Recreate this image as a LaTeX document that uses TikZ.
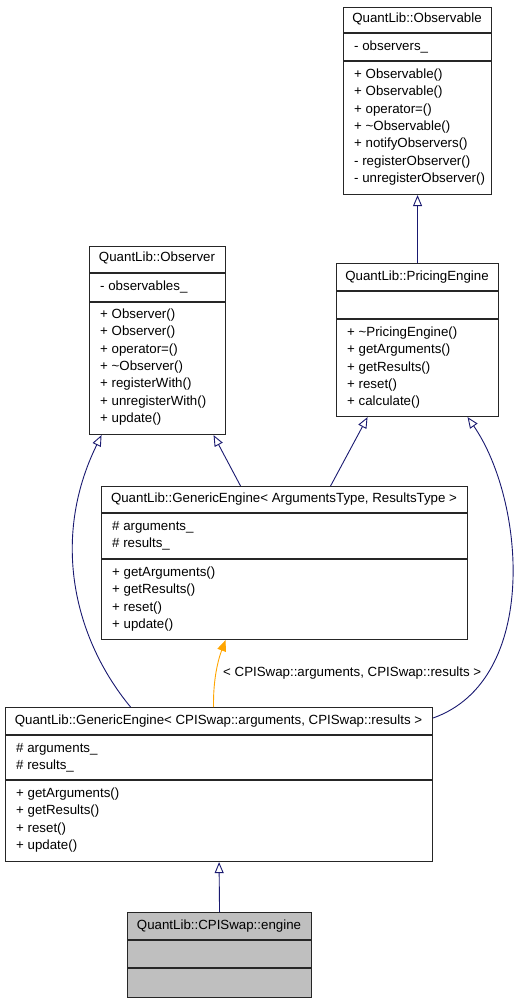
\documentclass[tikz,border=0pt]{standalone}
\usepackage{fontspec}
\setmainfont{Liberation Sans}
\usetikzlibrary{arrows.meta}
\definecolor{edgeblue}{HTML}{191970}
\definecolor{edgeorange}{HTML}{FFA500}
\definecolor{boxgray}{HTML}{BFBFBF}
\begin{document}
\begin{tikzpicture}[x=1pt,y=-1pt,
  box/.style={draw=black!85, line width=1.1pt, fill=white, inner sep=0pt, anchor=north west},
  sep/.style={draw=black!85, line width=1.1pt},
  ttl/.style={anchor=mid, inner sep=0pt, font=\fontsize{13.3}{15}\selectfont},
  mem/.style={anchor=mid west, inner sep=0pt, font=\fontsize{13.3}{15}\selectfont},
  inh/.style={draw=edgeblue, line width=0.9pt, -{Triangle[open, length=11pt, width=9pt, fill=white]}},
  tmpl/.style={draw=edgeorange, line width=0.9pt, -{Triangle[length=11pt, width=9pt]}}]
\useasboundingbox (0,0) rectangle (518,1003);

% QuantLib::Observable
\node[box, minimum width=148pt, minimum height=187pt] (obs) at (343,7) {};
\draw[sep] (obs.west |- 0,33) -- (obs.east |- 0,33);
\draw[sep] (obs.west |- 0,61) -- (obs.east |- 0,61);
\node[ttl] (obst) at (417,20) {QuantLib::Observable};
\node[mem] (obsa) at (354,48) {- observers\_};
\foreach \t [count=\i] in {+ Observable(), + Observable(), + operator=(), + \textasciitilde Observable(), + notifyObservers(), - registerObserver(), - unregisterObserver()}
  \node[mem] (obsm\i) at (354,{76+(\i-1)*17.33}) {\t};

% QuantLib::Observer
\node[box, minimum width=136pt, minimum height=188pt] (obr) at (89,246) {};
\draw[sep] (obr.west |- 0,273) -- (obr.east |- 0,273);
\draw[sep] (obr.west |- 0,302) -- (obr.east |- 0,302);
\node[ttl] (obrt) at (157,259) {QuantLib::Observer};
\node[mem] (obra) at (100,288) {- observables\_};
\foreach \t [count=\i] in {+ Observer(), + Observer(), + operator=(), + \textasciitilde Observer(), + registerWith(), + unregisterWith(), + update()}
  \node[mem] (obrm\i) at (100,{316+(\i-1)*17.33}) {\t};

% QuantLib::PricingEngine
\node[box, minimum width=162pt, minimum height=153pt] (pe) at (336,263) {};
\draw[sep] (pe.west |- 0,291) -- (pe.east |- 0,291);
\draw[sep] (pe.west |- 0,319) -- (pe.east |- 0,319);
\node[ttl] (pet) at (417,278) {QuantLib::PricingEngine};
\foreach \t [count=\i] in {+ \textasciitilde PricingEngine(), + getArguments(), + getResults(), + reset(), + calculate()}
  \node[mem] (pem\i) at (347,{334+(\i-1)*17.25}) {\t};

% QuantLib::GenericEngine< ArgumentsType, ResultsType >
\node[box, minimum width=366pt, minimum height=153pt] (ge) at (101,486) {};
\draw[sep] (ge.west |- 0,513) -- (ge.east |- 0,513);
\draw[sep] (ge.west |- 0,559) -- (ge.east |- 0,559);
\node[ttl] (get) at (284,500) {QuantLib::GenericEngine< ArgumentsType, ResultsType >};
\node[mem] (gea1) at (112,528) {\# arguments\_};
\node[mem] (gea2) at (112,545) {\# results\_};
\foreach \t [count=\i] in {+ getArguments(), + getResults(), + reset(), + update()}
  \node[mem] (gem\i) at (112,{574+(\i-1)*17.3}) {\t};

% QuantLib::GenericEngine< CPISwap::arguments, CPISwap::results >
\node[box, minimum width=427pt, minimum height=154pt] (gc) at (5,707) {};
\draw[sep] (gc.west |- 0,735) -- (gc.east |- 0,735);
\draw[sep] (gc.west |- 0,780) -- (gc.east |- 0,780);
\node[ttl] (gct) at (218.5,722) {QuantLib::GenericEngine< CPISwap::arguments, CPISwap::results >};
\node[mem] (gca1) at (16,750) {\# arguments\_};
\node[mem] (gca2) at (16,767) {\# results\_};
\foreach \t [count=\i] in {+ getArguments(), + getResults(), + reset(), + update()}
  \node[mem] (gcm\i) at (16,{795+(\i-1)*17.3}) {\t};

% QuantLib::CPISwap::engine
\node[box, fill=boxgray, minimum width=184pt, minimum height=85pt] (eng) at (127,912) {};
\draw[sep] (eng.west |- 0,940) -- (eng.east |- 0,940);
\draw[sep] (eng.west |- 0,968) -- (eng.east |- 0,968);
\node[ttl] (engt) at (219,927) {QuantLib::CPISwap::engine};

% connectors
\draw[inh] (pe.north) -- (obs.south);
\draw[inh] ([xshift=-44pt]ge.north) -- ([xshift=56pt]obr.south);
\draw[inh] ([xshift=46pt]ge.north) -- ([xshift=-50pt]pe.south);
\draw[inh] ([xshift=-88.5pt]gc.north) .. controls (75,640) and (50,540) .. ([xshift=-56pt]obr.south);
\draw[inh] ([yshift=-11pt]gc.north east) .. controls (540,680) and (525,500) .. ([xshift=50pt]pe.south);
\draw[tmpl] ([xshift=-5.5pt]gc.north) .. controls (213,680) and (218,660) .. ([xshift=-59pt]ge.south);
\node[mem] (lbl) at (223,674) {< CPISwap::arguments, CPISwap::results >};
\draw[inh] (eng.north) -- (gc.south);
\end{tikzpicture}
\end{document}
